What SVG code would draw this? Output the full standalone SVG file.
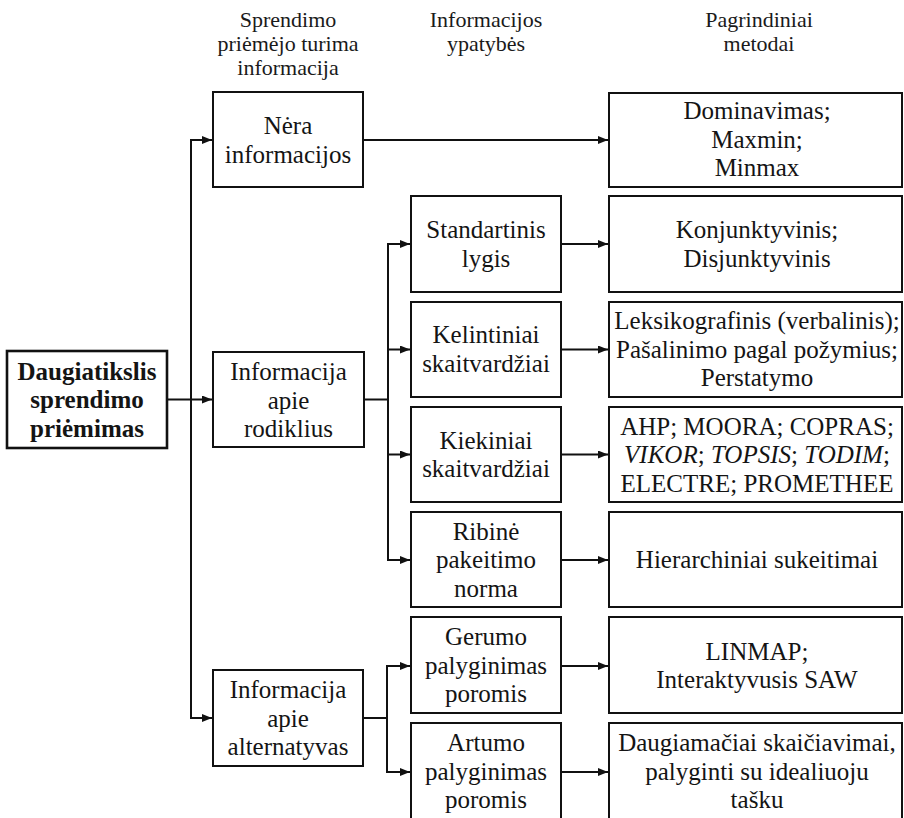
<svg xmlns="http://www.w3.org/2000/svg" width="904" height="818" viewBox="0 0 904 818">
<style>
text{font-family:"Liberation Serif",Tinos,"Noto Serif","DejaVu Serif",FreeSerif,"Times New Roman",serif}
.box{fill:#fff;stroke:#111;stroke-width:2}
.main{fill:#fff;stroke:#111;stroke-width:2.6}
.t{font-size:25px;fill:#141414;text-anchor:middle}
.b{font-weight:bold}
.h{font-size:22px;fill:#1a1a1a;text-anchor:middle}
.c{fill:none;stroke:#111;stroke-width:2}
.i{font-style:italic}
</style>
<defs>
<marker id="ah" markerUnits="userSpaceOnUse" markerWidth="12" markerHeight="10" refX="10" refY="4" orient="auto">
<path d="M0,0 L10,4 L0,8 Z" fill="#111"/>
</marker>
</defs>
<rect width="904" height="818" fill="#fff"/>

<g id="headers">
<text class="h" x="288" y="27">Sprendimo</text>
<text class="h" x="288" y="51">priėmėjo turima</text>
<text class="h" x="288" y="75">informacija</text>
<text class="h" x="486" y="27">Informacijos</text>
<text class="h" x="486" y="51">ypatybės</text>
<text class="h" x="759" y="27">Pagrindiniai</text>
<text class="h" x="759" y="51">metodai</text>
</g>

<g id="connectors">
<path class="c" d="M167,399.5 H212" marker-end="url(#ah)"/>
<path class="c" d="M212,140 H191 V718 H212" marker-end="url(#ah)"/>
<path class="c" d="M191,140 H212" marker-end="url(#ah)"/>
<path class="c" d="M363,140 H608" marker-end="url(#ah)"/>
<path class="c" d="M364,399.5 H388"/>
<path class="c" d="M410,244 H388 V560 H410" marker-end="url(#ah)"/>
<path class="c" d="M388,244 H410" marker-end="url(#ah)"/>
<path class="c" d="M388,349.5 H410" marker-end="url(#ah)"/>
<path class="c" d="M388,454.5 H410" marker-end="url(#ah)"/>
<path class="c" d="M561,244 H608" marker-end="url(#ah)"/>
<path class="c" d="M561,349.5 H608" marker-end="url(#ah)"/>
<path class="c" d="M561,454.5 H608" marker-end="url(#ah)"/>
<path class="c" d="M561,560 H608" marker-end="url(#ah)"/>
<path class="c" d="M363,718 H387"/>
<path class="c" d="M410,666 H387 V772 H410" marker-end="url(#ah)"/>
<path class="c" d="M387,666 H410" marker-end="url(#ah)"/>
<path class="c" d="M561,666 H608" marker-end="url(#ah)"/>
<path class="c" d="M561,772 H608" marker-end="url(#ah)"/>
</g>

<g id="n-main">
<rect class="main" x="7" y="351" width="160" height="97"/>
<text class="t b" x="87" y="379.5">Daugiatikslis</text>
<text class="t b" x="87" y="408">sprendimo</text>
<text class="t b" x="87" y="436.5">priėmimas</text>
</g>

<g id="n-nera">
<rect class="box" x="213" y="92" width="150" height="95"/>
<text class="t" x="288" y="134">Nėra</text>
<text class="t" x="288" y="162.5">informacijos</text>
</g>

<g id="n-rodikliai">
<rect class="box" x="213" y="352" width="151" height="95"/>
<text class="t" x="288.5" y="380">Informacija</text>
<text class="t" x="288.5" y="408.5">apie</text>
<text class="t" x="288.5" y="437">rodiklius</text>
</g>

<g id="n-alternatyvos">
<rect class="box" x="213" y="670" width="150" height="96"/>
<text class="t" x="288" y="698">Informacija</text>
<text class="t" x="288" y="726.5">apie</text>
<text class="t" x="288" y="755">alternatyvas</text>
</g>

<g id="n-standartinis">
<rect class="box" x="411" y="196" width="150" height="96"/>
<text class="t" x="486" y="238">Standartinis</text>
<text class="t" x="486" y="266.5">lygis</text>
</g>

<g id="n-kelintiniai">
<rect class="box" x="411" y="302" width="150" height="95"/>
<text class="t" x="486" y="343">Kelintiniai</text>
<text class="t" x="486" y="371.5">skaitvardžiai</text>
</g>

<g id="n-kiekiniai">
<rect class="box" x="411" y="407" width="150" height="95"/>
<text class="t" x="486" y="448.5">Kiekiniai</text>
<text class="t" x="486" y="477">skaitvardžiai</text>
</g>

<g id="n-ribine">
<rect class="box" x="411" y="512" width="150" height="95"/>
<text class="t" x="486" y="539.5">Ribinė</text>
<text class="t" x="486" y="568">pakeitimo</text>
<text class="t" x="486" y="596.5">norma</text>
</g>

<g id="n-gerumo">
<rect class="box" x="411" y="617" width="150" height="96"/>
<text class="t" x="486" y="645">Gerumo</text>
<text class="t" x="486" y="673.5">palyginimas</text>
<text class="t" x="486" y="702">poromis</text>
</g>

<g id="n-artumo">
<rect class="box" x="411" y="723" width="150" height="98"/>
<text class="t" x="486" y="751">Artumo</text>
<text class="t" x="486" y="779.5">palyginimas</text>
<text class="t" x="486" y="808">poromis</text>
</g>

<g id="m-dominavimas">
<rect class="box" x="609" y="93" width="293" height="94"/>
<text class="t" x="757" y="119">Dominavimas;</text>
<text class="t" x="757" y="147.5">Maxmin;</text>
<text class="t" x="757" y="176">Minmax</text>
</g>

<g id="m-konjunktyvinis">
<rect class="box" x="609" y="196" width="293" height="96"/>
<text class="t" x="757" y="238">Konjunktyvinis;</text>
<text class="t" x="757" y="266.5">Disjunktyvinis</text>
</g>

<g id="m-leksikografinis">
<rect class="box" x="609" y="302" width="293" height="95"/>
<text class="t" x="757" y="329">Leksikografinis (verbalinis);</text>
<text class="t" x="757" y="357.5">Pašalinimo pagal požymius;</text>
<text class="t" x="757" y="386">Perstatymo</text>
</g>

<g id="m-ahp">
<rect class="box" x="609" y="407" width="293" height="95"/>
<text class="t" x="757" y="434.5">AHP; MOORA; COPRAS;</text>
<text class="t" x="757" y="463"><tspan class="i">VIKOR</tspan>; <tspan class="i">TOPSIS</tspan>; <tspan class="i">TODIM</tspan>;</text>
<text class="t" x="757" y="491.5">ELECTRE; PROMETHEE</text>
</g>

<g id="m-hierarchiniai">
<rect class="box" x="609" y="512" width="293" height="95"/>
<text class="t" x="757" y="568">Hierarchiniai sukeitimai</text>
</g>

<g id="m-linmap">
<rect class="box" x="609" y="617" width="293" height="96"/>
<text class="t" x="757" y="659.5">LINMAP;</text>
<text class="t" x="757" y="688">Interaktyvusis SAW</text>
</g>

<g id="m-daugiamaciai">
<rect class="box" x="609" y="723" width="293" height="98"/>
<text class="t" x="757" y="751">Daugiamačiai skaičiavimai,</text>
<text class="t" x="757" y="779.5">palyginti su idealiuoju</text>
<text class="t" x="757" y="808">tašku</text>
</g>
</svg>
